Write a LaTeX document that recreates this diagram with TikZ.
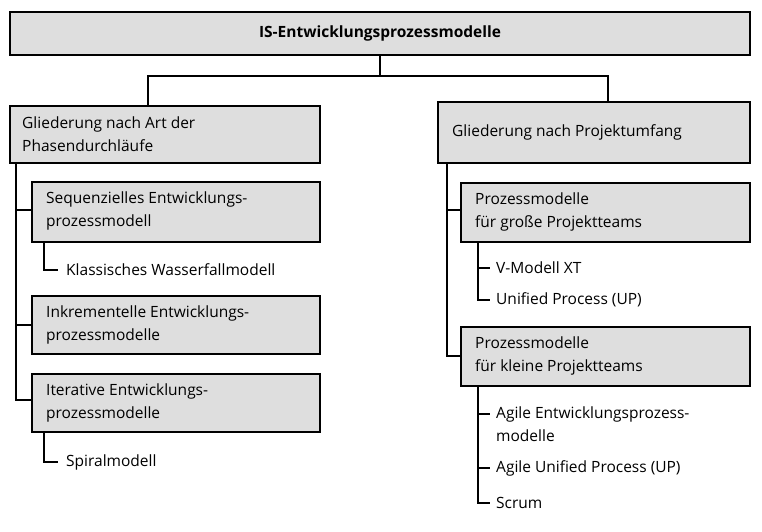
\documentclass[tikz,border=0pt]{standalone}
\usepackage{fontspec}
\setmainfont{Open Sans}
\begin{document}
\begin{tikzpicture}[x=1pt,y=-1pt,
 box/.style={draw=black,fill=black!13,line width=1.1pt,inner sep=0pt},
 lbl/.style={anchor=west,font=\fontsize{15.5}{22.5}\selectfont,align=left,inner sep=0pt},
 ln/.style={line width=1.1pt}]
\useasboundingbox (0,0) rectangle (762,532);
\fill[white] (0,0) rectangle (762,532);
\node[box,minimum width=740pt,minimum height=43pt] (top) at (380,33.5) {};
\node[font=\fontsize{15.5}{20}\selectfont\bfseries] (toptxt) at (top) {IS-Entwicklungsprozessmodelle};
\draw[box] (10,106) rectangle (320,163) coordinate (L);
\node[lbl] (Lt) at (22,134) {Gliederung nach Art der\\Phasendurchläufe};
\draw[box] (438,102) rectangle (750,163);
\node[lbl] (Rt) at (452,132) {Gliederung nach Projektumfang};
\draw[ln] (top.south) -- (380,76) coordinate (j);
\draw[ln] (148,106) |- (j) -| (608,102);
% left
\draw[box] (32,182) rectangle (320,242);
\node[lbl] (s1) at (46,211) {Sequenzielles Entwicklungs-\\prozessmodell};
\draw[box] (32,296) rectangle (320,354);
\node[lbl] (s2) at (46,325) {Inkrementelle Entwicklungs-\\prozessmodelle};
\draw[box] (32,374) rectangle (320,432);
\node[lbl] (s3) at (46,403) {Iterative Entwicklungs-\\prozessmodelle};
\draw[ln] (16,163) -- (16,400) -- (32,400);
\draw[ln] (16,210) -- (32,210);
\draw[ln] (16,325) -- (32,325);
\node[lbl] (w) at (66,270) {Klassisches Wasserfallmodell};
\draw[ln] (44,242) |- (58,270);
\node[lbl] (sp) at (66,462) {Spiralmodell};
\draw[ln] (44,432) |- (58,462);
% right
\draw[box] (461,183) rectangle (750,242);
\node[lbl] (g) at (475,212) {Prozessmodelle\\für große Projektteams};
\draw[box] (461,327) rectangle (750,386);
\node[lbl] (k) at (475,356) {Prozessmodelle\\für kleine Projektteams};
\draw[ln] (447,163) |- (461,356);
\draw[ln] (447,210) -- (461,210);
\node[lbl] (v) at (496,268) {V-Modell XT};
\node[lbl] (u) at (496,300) {Unified Process (UP)};
\draw[ln] (478,242) |- (490,300);
\draw[ln] (478,268) -- (490,268);
\node[lbl] (a1) at (496,424) {Agile Entwicklungsprozess-\\modelle};
\node[lbl] (a2) at (496,468) {Agile Unified Process (UP)};
\node[lbl] (a3) at (496,503) {Scrum};
\draw[ln] (478,386) |- (490,503);
\draw[ln] (478,414) -- (490,414);
\draw[ln] (478,468) -- (490,468);
\end{tikzpicture}
\end{document}
